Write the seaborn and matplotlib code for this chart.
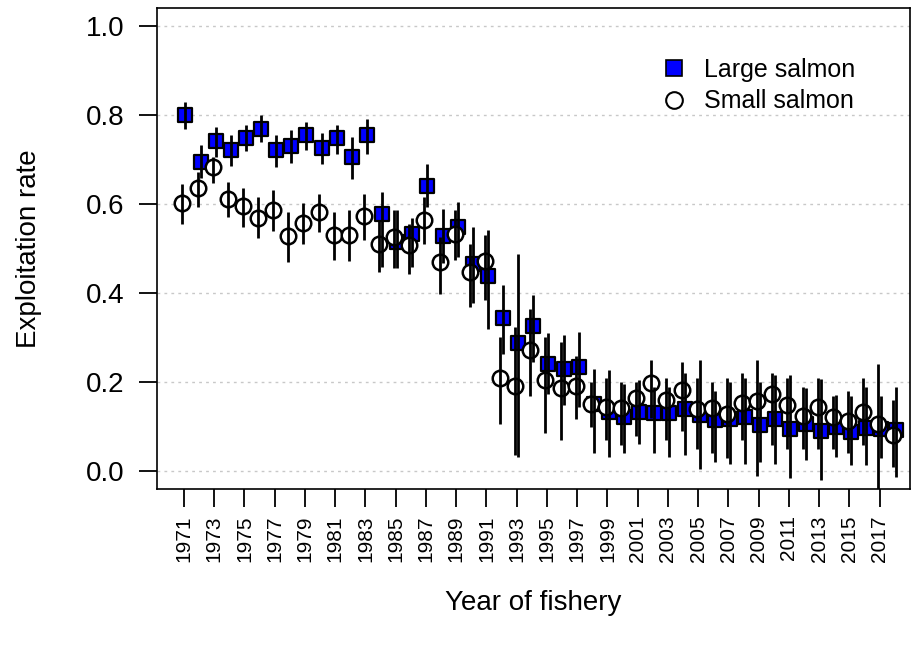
import numpy as np
import pandas as pd
import matplotlib
matplotlib.use("Agg")
import matplotlib.pyplot as plt
from matplotlib.lines import Line2D
import seaborn as sns

years = list(range(1971, 2019))

large_mean = [0.801, 0.695, 0.741, 0.721, 0.749, 0.770, 0.721, 0.730, 0.755, 0.726,
              0.749, 0.706, 0.755, 0.579, 0.515, 0.532, 0.642, 0.528, 0.549, 0.466,
              0.439, 0.344, 0.288, 0.326, 0.240, 0.229, 0.234, 0.152, 0.133, 0.121,
              0.133, 0.130, 0.130, 0.139, 0.126, 0.115, 0.118, 0.122, 0.103, 0.117,
              0.095, 0.105, 0.090, 0.100, 0.088, 0.098, 0.095, 0.093]
large_lo = [0.770, 0.658, 0.706, 0.685, 0.719, 0.740, 0.683, 0.692, 0.721, 0.691,
            0.713, 0.657, 0.713, 0.460, 0.456, 0.459, 0.594, 0.467, 0.481, 0.377,
            0.320, 0.264, 0.032, 0.245, 0.174, 0.148, 0.144, 0.040, 0.032, 0.040,
            0.062, 0.040, 0.032, 0.036, 0.006, 0.021, 0.017, 0.017, 0.020, 0.017,
            -0.016, 0.025, -0.020, 0.032, 0.013, 0.013, 0.030, -0.013]
large_hi = [0.829, 0.732, 0.773, 0.755, 0.777, 0.801, 0.755, 0.766, 0.784, 0.760,
            0.778, 0.752, 0.792, 0.627, 0.586, 0.570, 0.691, 0.590, 0.605, 0.549,
            0.541, 0.418, 0.489, 0.397, 0.311, 0.305, 0.313, 0.230, 0.227, 0.197,
            0.204, 0.190, 0.190, 0.220, 0.249, 0.180, 0.200, 0.210, 0.200, 0.216,
            0.216, 0.186, 0.208, 0.171, 0.170, 0.190, 0.170, 0.189]

small_mean = [0.603, 0.636, 0.683, 0.612, 0.595, 0.570, 0.586, 0.528, 0.558, 0.582,
              0.530, 0.530, 0.573, 0.511, 0.526, 0.508, 0.565, 0.470, 0.532, 0.448,
              0.472, 0.210, 0.191, 0.273, 0.204, 0.186, 0.192, 0.150, 0.144, 0.143,
              0.165, 0.199, 0.159, 0.182, 0.139, 0.142, 0.128, 0.153, 0.157, 0.174,
              0.149, 0.123, 0.145, 0.121, 0.112, 0.133, 0.106, 0.081]
small_lo = [0.556, 0.594, 0.648, 0.571, 0.549, 0.523, 0.540, 0.470, 0.511, 0.537,
            0.475, 0.472, 0.519, 0.448, 0.456, 0.444, 0.511, 0.399, 0.474, 0.369,
            0.384, 0.107, 0.036, 0.168, 0.086, 0.071, 0.118, 0.100, 0.070, 0.060,
            0.080, 0.120, 0.070, 0.090, 0.050, 0.040, 0.030, 0.070, -0.010, 0.060,
            0.050, 0.050, 0.050, 0.050, 0.040, 0.060, -0.065, 0.010]
small_hi = [0.646, 0.672, 0.706, 0.650, 0.637, 0.616, 0.631, 0.582, 0.603, 0.624,
            0.582, 0.586, 0.624, 0.564, 0.586, 0.556, 0.616, 0.526, 0.586, 0.511,
            0.530, 0.302, 0.324, 0.365, 0.302, 0.290, 0.260, 0.200, 0.210, 0.200,
            0.200, 0.250, 0.210, 0.245, 0.210, 0.200, 0.210, 0.220, 0.250, 0.220,
            0.210, 0.190, 0.210, 0.170, 0.180, 0.210, 0.240, 0.160]

xtick_years = list(range(1971, 2018, 2))
ytick_vals = [0.0, 0.2, 0.4, 0.6, 0.8, 1.0]

df_large = pd.DataFrame({"year": np.array(years) + 0.1, "rate": large_mean,
                         "lo": large_lo, "hi": large_hi})
df_small = pd.DataFrame({"year": np.array(years) - 0.1, "rate": small_mean,
                         "lo": small_lo, "hi": small_hi})

sns.set_style("ticks")
plt.rcParams["font.family"] = ["Liberation Sans", "DejaVu Sans"]
plt.rcParams["text.color"] = "black"
plt.rcParams["axes.labelcolor"] = "black"
plt.rcParams["xtick.color"] = "black"
plt.rcParams["ytick.color"] = "black"

fig = plt.figure(figsize=(9.16, 6.46), dpi=100)
ax = fig.add_axes([0.1711, 0.243, 0.8223, 0.744])

for v in ytick_vals:
    ax.axhline(v, color="#c8c8c8", lw=1.0, ls=(0, (2, 3)), zorder=0)

sns.scatterplot(data=df_large, x="year", y="rate", marker="s", s=105,
                color="#0000FF", edgecolor="black", linewidth=1.6, ax=ax,
                zorder=3, legend=False)
sns.scatterplot(data=df_small, x="year", y="rate", marker="o", s=125,
                color="white", edgecolor="black", linewidth=1.8, ax=ax,
                zorder=4, legend=False)
ax.vlines(df_large["year"], df_large["lo"], df_large["hi"], color="black",
          lw=2.0, zorder=5)
ax.vlines(df_small["year"], df_small["lo"], df_small["hi"], color="black",
          lw=2.0, zorder=5)

ax.set_xlim(1969.2, 2019.0)
ax.set_ylim(-0.04, 1.04)
ax.set_xticks(xtick_years)
ax.set_xticklabels([str(y) for y in xtick_years], rotation=90, fontsize=15)
ax.set_yticks(ytick_vals)
ax.set_yticklabels([f"{v:.1f}" for v in ytick_vals], fontsize=20)
ax.tick_params(axis="both", direction="out", length=13, width=1.3,
               color="black", labelcolor="black")
ax.tick_params(axis="y", pad=10)
ax.tick_params(axis="x", pad=6)
for sp in ax.spines.values():
    sp.set_visible(True)
    sp.set_color("black")
    sp.set_linewidth(1.2)

ax.set_xlabel("Year of fishery", fontsize=20, labelpad=20, color="black")
ax.set_ylabel("Exploitation rate", fontsize=20, labelpad=32, color="black")

handles = [
    Line2D([], [], marker="s", ls="none", markersize=11, markerfacecolor="#0000FF",
           markeredgecolor="black", markeredgewidth=1.2, label="Large salmon"),
    Line2D([], [], marker="o", ls="none", markersize=12, markerfacecolor="white",
           markeredgecolor="black", markeredgewidth=1.5, label="Small salmon"),
]
ax.legend(handles=handles, loc="upper left", bbox_to_anchor=(0.648, 0.918),
          frameon=False, fontsize=18, handletextpad=0.45, handlelength=1.5,
          labelspacing=0.3, borderaxespad=0)

fig.savefig("out.png", dpi=100)
